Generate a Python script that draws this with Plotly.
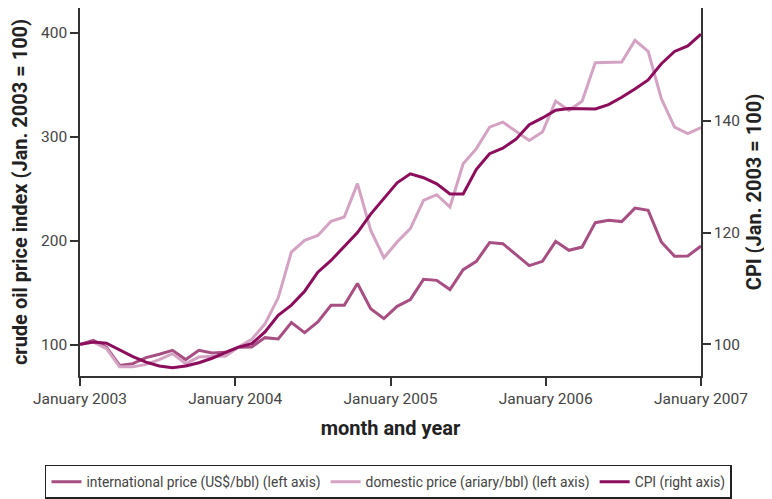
import plotly.graph_objects as go

# month index 0..47 = Jan 2003 .. Dec 2006 (the chart stretches them across the axis)
months = [f"{m} {y}" for y in range(2003, 2007)
          for m in ["Jan", "Feb", "Mar", "Apr", "May", "Jun",
                    "Jul", "Aug", "Sep", "Oct", "Nov", "Dec"]]
month_idx = list(range(len(months)))

tick_labels = ["January 2003", "January 2004", "January 2005",
               "January 2006", "January 2007"]

intl_price = [100, 104, 97.5, 80, 81.7, 87.5, 90.7, 94.5, 85.6, 94.5, 92, 92.6,
              97.5, 97.7, 106.7, 105.4, 121.2, 111.5, 121.7, 137.8, 137.8, 158.7, 134.6, 125,
              136.8, 143.3, 162.8, 161.8, 152.9, 172.1, 180.1, 198.1, 197.1, 186.5, 176, 180.1,
              199.3, 190.7, 193.8, 217.3, 219.5, 218.3, 231.3, 229.1, 198.7, 184.9, 185.2, 194.8]

dom_price = [100, 102.5, 96.2, 78.6, 78.6, 81, 85.6, 91.3, 81.7, 88, 88.8, 88.8,
             97.7, 105, 120, 145, 189, 200.3, 205, 218.6, 222.7, 254.8, 210, 183.5,
             198.7, 211.5, 238.8, 244.2, 232.3, 274, 288.5, 309.2, 314, 305, 296.4, 304.4,
             334.2, 325.3, 334, 371.2, 371.2, 371.7, 392.6, 382, 336.5, 309.2, 302.9, 308.7]

cpi = [100, 100.4, 100.2, 99.0, 97.8, 96.8, 96.1, 95.8, 96.1, 96.7, 97.5, 98.5,
       99.5, 100.1, 102.2, 105.2, 107.0, 109.5, 112.9, 115.0, 117.6, 120.0, 123.3, 126.2,
       128.9, 130.5, 129.8, 128.7, 126.9, 126.9, 131.3, 134.1, 135.1, 136.7, 139.3, 140.5,
       141.9, 142.2, 142.2, 142.1, 142.9, 144.2, 145.7, 147.3, 150.2, 152.4, 153.4, 155.5]

base_font = "Roboto, Liberation Sans, sans-serif"
axis_col = "#333333"
title_font = dict(family=base_font, size=20, color="#222222", weight="bold")

fig = go.Figure()
fig.add_trace(go.Scatter(x=month_idx, y=intl_price, text=months, mode="lines",
                         name="international price (US$/bbl) (left axis)",
                         line=dict(color="#A74E82", width=3)))
fig.add_trace(go.Scatter(x=month_idx, y=dom_price, text=months, mode="lines",
                         name="domestic price (ariary/bbl) (left axis)",
                         line=dict(color="#D4A3C3", width=3)))
fig.add_trace(go.Scatter(x=month_idx, y=cpi, text=months, mode="lines",
                         name="CPI (right axis)", yaxis="y2",
                         line=dict(color="#8C0D5C", width=3)))

n = len(months) - 1
axis_style = dict(showgrid=False, zeroline=False, showline=True,
                  linecolor=axis_col, linewidth=1.5, ticks="outside", ticklen=8,
                  tickcolor=axis_col, tickwidth=1.5, automargin=False)

# page body adds an 8px margin, so the figure is sized to the window minus that
fig.update_layout(
    width=764, height=491,
    margin=dict(l=72, r=71, t=0, b=123),
    paper_bgcolor="white", plot_bgcolor="white",
    font=dict(family=base_font, size=15.5, color="#444444"),
    xaxis=dict(range=[0, n], tickvals=[n * k / 4 for k in range(5)],
               ticktext=tick_labels,
               title=dict(text="month and year", standoff=14, font=title_font),
               **axis_style),
    yaxis=dict(range=[69.8, 423.75], tickvals=[100, 200, 300, 400],
               title=dict(text="crude oil price index (Jan. 2003 = 100)", standoff=14,
                          font=title_font),
               **axis_style),
    yaxis2=dict(range=[94.32, 160.18], tickvals=[100, 120, 140],
                overlaying="y", side="right",
                title=dict(text="CPI (Jan. 2003 = 100)", standoff=8, font=title_font),
                **axis_style),
    legend=dict(orientation="h", x=-0.0564, xanchor="left", y=-0.241, yanchor="top",
                bordercolor="#222222", borderwidth=1.5,
                font=dict(family=base_font, size=13.8, color="#444444"),
                itemwidth=30, traceorder="normal"),
)

fig.write_html("out.html")
